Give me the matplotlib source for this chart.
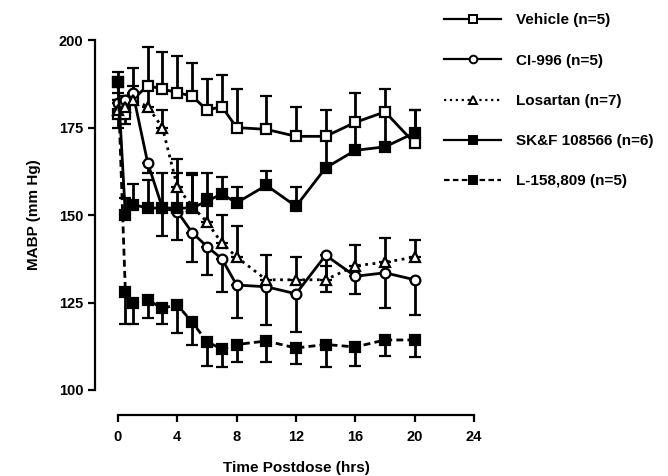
import matplotlib
matplotlib.use('Agg')
import matplotlib.pyplot as plt
from matplotlib.lines import Line2D

plt.rcParams['font.family'] = ['Liberation Sans', 'DejaVu Sans']
plt.rcParams['font.weight'] = 'bold'

# time points (hrs)
hours = [0, 0.5, 1, 2, 3, 4, 5, 6, 7, 8, 10, 12, 14, 16, 18, 20]

# MABP (mm Hg) per group, with one-sided SEM bars
vehicle = [179, 179, 183, 187, 186, 185, 184, 180, 181, 175, 174.5, 172.5, 172.5, 176.5, 179.5, 170.5]
vehicle_up = [4, 4, 9, 11, 10.5, 10.5, 9.5, 9, 9, 11, 9.5, 8.5, 7.5, 8.5, 6.5, 9.5]

ci996 = [182, 183, 185, 165, 152, 151, 145, 141, 137.5, 130, 129.5, 127.5, 138.5, 132.5, 133.5, 131.5]
ci996_down = [7, 7, 3, 3, 8, 8, 8.5, 8, 9.5, 9.5, 11, 11, 10.5, 5, 10, 10]

losartan = [180, 181, 183, 181, 175, 158, 152.5, 148, 142, 138, 131.5, 131.5, 131.5, 135.5, 136.5, 138]
losartan_up = [3, 3, 4, 5, 5, 8, 9, 8, 8, 9, 7, 6.5, 4, 6, 7, 5]

skf = [188, 150, 153, 152, 152, 152, 152, 154, 156, 153.5, 158.5, 152.5, 163.5, 168.5, 169.5, 173.5]
skf_up = [3, 5, 6, 8, 10, 10, 10, 8, 5, 4.5, 4, 5.5, 9, 8, 9.5, 6.5]

l158 = [188, 128, 125, 125.7, 123.4, 124.3, 119.4, 113.8, 111.7, 113, 114, 112, 113, 112.3, 114.3, 114.3]
l158_down = [3, 9, 6, 5, 4.5, 8, 6.5, 7, 5, 5, 6, 4.5, 6.5, 5.5, 4.5, 5]

fig = plt.figure(figsize=(6.68, 4.76), dpi=100)
ax = fig.add_axes([0.1766, 0.1807, 0.533, 0.735])

series = [
    ('Vehicle (n=5)', vehicle, [[0] * len(vehicle), vehicle_up], 's', 'white', '-'),
    ('CI-996 (n=5)', ci996, [ci996_down, [0] * len(ci996)], 'o', 'white', '-'),
    ('Losartan (n=7)', losartan, [[0] * len(losartan), losartan_up], '^', 'white', ':'),
    ('SK&F 108566 (n=6)', skf, [[0] * len(skf), skf_up], 's', 'black', '-'),
    ('L-158,809 (n=5)', l158, [l158_down, [0] * len(l158)], 's', 'black', (0, (2.5, 1.5))),
]

handles = []
for label, vals, err, mk, fc, ls in series:
    cont = ax.errorbar(hours, vals, yerr=err, fmt=mk, color='black', mfc=fc, mec='black',
                       ms=7, mew=1.6, lw=2, ls=ls, elinewidth=2, capsize=4, capthick=2,
                       clip_on=False)
    for art in cont.lines[1] + cont.lines[2]:
        art.set_clip_on(False)
    for art in cont.lines[2]:
        art.set_linestyle('-')
    handles.append(Line2D([], [], color='black', lw=1.6, ls=ls, marker=mk, mfc=fc,
                          mec='black', ms=5.5, mew=1.4, label=label))

ax.set_xlim(0, 24)
ax.set_ylim(100, 200)
ax.set_xticks([0, 4, 8, 12, 16, 20, 24])
ax.set_yticks([100, 125, 150, 175, 200])

for side in ['top', 'right']:
    ax.spines[side].set_visible(False)
ax.spines['left'].set_position(('outward', 16.5))
ax.spines['bottom'].set_position(('outward', 18))
for side in ['left', 'bottom']:
    ax.spines[side].set_linewidth(1.6)
ax.tick_params(width=1.6, length=5, labelsize=10.5)
ax.tick_params(axis='x', pad=6)

ax.set_xlabel('Time Postdose (hrs)', fontsize=11, fontweight='bold', labelpad=12)
ax.set_ylabel('MABP (mm Hg)', fontsize=11, fontweight='bold', labelpad=13)

fig.legend(handles=handles, loc='upper left', bbox_to_anchor=(0.648, 0.996),
           frameon=False, fontsize=11, handlelength=3.7, labelspacing=1.72,
           handletextpad=1.0, borderaxespad=0.35)

fig.savefig('out.png', dpi=100)
